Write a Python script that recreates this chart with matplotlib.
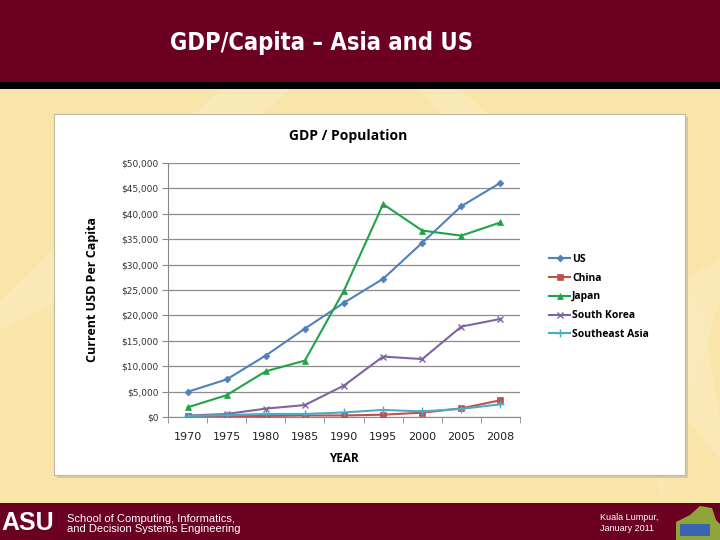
import matplotlib
matplotlib.use("Agg")
import matplotlib.pyplot as plt
from matplotlib.patches import Rectangle, Polygon
from matplotlib.ticker import FuncFormatter, FixedLocator, MultipleLocator

years = ["1970", "1975", "1980", "1985", "1990", "1995", "2000", "2005", "2008"]
us = [4950, 7400, 12100, 17400, 22500, 27200, 34300, 41500, 46100]
china = [110, 180, 200, 290, 310, 450, 850, 1700, 3300]
japan = [1900, 4300, 9000, 11100, 24900, 41900, 36700, 35700, 38300]
south_korea = [280, 600, 1650, 2350, 6200, 11900, 11400, 17800, 19300]
southeast_asia = [200, 380, 600, 600, 900, 1400, 1100, 1600, 2500]

series_names = ["US", "China", "Japan", "South Korea", "Southeast Asia"]
series_values = [us, china, japan, south_korea, southeast_asia]
series_colors = ["#4F81BD", "#C0504D", "#22A24A", "#8064A2", "#4BACC6"]
series_markers = ["D", "s", "^", "x", "+"]
series_msize = [3.5, 4.5, 5, 5, 6]

fig = plt.figure(figsize=(7.2, 5.4), dpi=100)
fig.patch.set_facecolor("#F9E4A9")

W, H = 720.0, 540.0
def fx(x): return x / W
def fy(y): return 1 - y / H

# background light streaks
for pts in [[(220, 89), (290, 89), (60, 300), (0, 330), (0, 300)],
            [(420, 89), (460, 89), (700, 300), (720, 420), (720, 460)],
            [(640, 300), (720, 260), (720, 300), (660, 500)]]:
    fig.patches.append(Polygon([(fx(a), fy(b)) for a, b in pts], closed=True,
                               transform=fig.transFigure, facecolor="#FBECC0",
                               edgecolor="none", alpha=0.6, zorder=0))

# header band
fig.patches.append(Rectangle((0, fy(82)), 1, 82 / H, transform=fig.transFigure,
                             facecolor="#6B0022", edgecolor="none", zorder=1))
fig.patches.append(Rectangle((0, fy(89)), 1, 7 / H, transform=fig.transFigure,
                             facecolor="#000000", edgecolor="none", zorder=1))
# footer band
fig.patches.append(Rectangle((0, 0), 1, 37 / H, transform=fig.transFigure,
                             facecolor="#6B0022", edgecolor="none", zorder=1))
# chart box shadow + box
fig.patches.append(Rectangle((fx(57), fy(478)), 631 / W, 361 / H, transform=fig.transFigure,
                             facecolor="#D8C9A0", edgecolor="none", zorder=1))
fig.patches.append(Rectangle((fx(54), fy(475)), 631 / W, 361 / H, transform=fig.transFigure,
                             facecolor="white", edgecolor="#BFB9A8", linewidth=0.8, zorder=1))

fig.text(fx(322), fy(43), "GDP/Capita \u2013 Asia and US", color="white",
         fontsize=17, fontweight="bold", fontstretch="condensed",
         family=["DejaVu Sans"], ha="center", va="center", zorder=3)

# footer text
fig.text(fx(1), fy(523), "ASU", color="white", fontsize=18, fontweight="bold",
         family=["Liberation Sans", "DejaVu Sans"], ha="left", va="center", zorder=3)
fig.text(fx(67), fy(524), "School of Computing, Informatics,\nand Decision Systems Engineering",
         color="white", fontsize=8, family=["Liberation Sans", "DejaVu Sans"],
         ha="left", va="center", linespacing=1.0, zorder=3)
fig.text(fx(600), fy(523), "Kuala Lumpur,\nJanuary 2011", color="white", fontsize=6.5,
         family=["Liberation Sans", "DejaVu Sans"], ha="left", va="center", linespacing=1.3, zorder=3)
fig.patches.append(Polygon([(fx(a), fy(b)) for a, b in
                            [(676, 540), (676, 522), (690, 515), (700, 506), (712, 508),
                             (716, 520), (720, 524), (720, 540)]],
                           closed=True, transform=fig.transFigure, facecolor="#8FA53A",
                           edgecolor="none", zorder=2))
fig.patches.append(Rectangle((fx(680), fy(536)), 30 / W, 12 / H, transform=fig.transFigure,
                             facecolor="#3A63B0", edgecolor="none", zorder=2))

# chart
ax = fig.add_axes([fx(168), fy(417), 352 / W, 254 / H])
ax.set_zorder(3)
ax.patch.set_alpha(0)
x = list(range(len(years)))
for name, vals, c, m, ms in zip(series_names, series_values, series_colors, series_markers, series_msize):
    ax.plot(x, vals, color=c, marker=m, markersize=ms, linewidth=1.5, label=name,
            markeredgewidth=1.0 if m in ("x", "+") else 0.5, markeredgecolor=c, zorder=3)

ax.set_xlim(-0.5, len(years) - 0.5)
ax.set_ylim(0, 50000)
ax.yaxis.set_major_locator(MultipleLocator(5000))
ax.yaxis.set_major_formatter(FuncFormatter(lambda v, p: f"${int(v):,}"))
ax.set_xticks(x)
ax.set_xticklabels(years)
ax.xaxis.set_minor_locator(FixedLocator([i - 0.5 for i in range(len(years) + 1)]))
ax.tick_params(axis="x", which="major", length=0, pad=11, labelsize=8, labelcolor="#222222")
ax.tick_params(axis="x", which="minor", length=4, color="#888888", direction="out")
ax.tick_params(axis="y", which="major", length=4, color="#888888", labelsize=6.5,
               labelcolor="#333333", pad=3)
ax.grid(axis="y", color="#8C8C8C", linewidth=0.9)
ax.set_axisbelow(True)
for s in ["top", "right"]:
    ax.spines[s].set_visible(False)
ax.spines["left"].set_color("#888888")
ax.spines["bottom"].set_color("#888888")

ax.set_ylabel("Current USD Per Capita", fontsize=9, fontweight="bold",
              family=["Open Sans", "DejaVu Sans"], labelpad=16)
ax.set_xlabel("YEAR", fontsize=8.5, fontweight="bold", family=["Open Sans", "DejaVu Sans"],
              labelpad=7)
fig.text(fx(348), fy(136), "GDP / Population", fontsize=10, fontweight="bold",
         family=["Open Sans", "DejaVu Sans"], ha="center", va="center", zorder=4)

leg = ax.legend(loc="center left", bbox_to_anchor=(fx(540), fy(297)),
                bbox_transform=fig.transFigure, frameon=False,
                handlelength=2.0, handletextpad=0.2, labelspacing=0.75,
                prop={"weight": "bold", "family": ["Open Sans", "DejaVu Sans"], "size": 7.5})

fig.savefig("out.png", dpi=100, facecolor=fig.get_facecolor())
